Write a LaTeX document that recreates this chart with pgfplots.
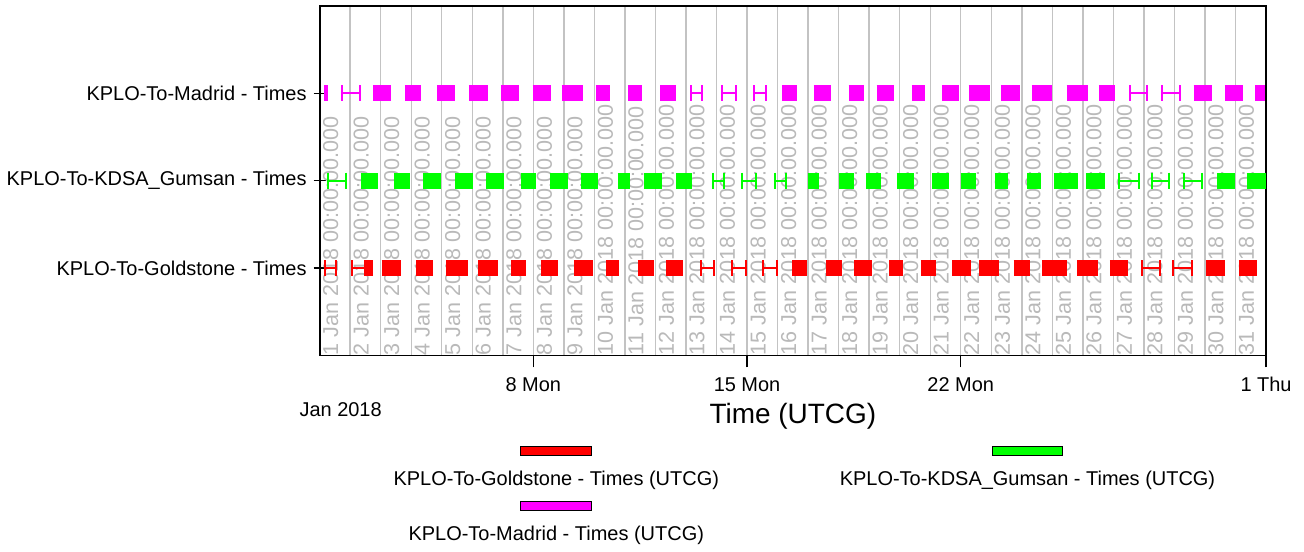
\documentclass[border=0pt]{standalone}
\usepackage{pgfplots}
\pgfplotsset{compat=1.18}
\usepackage{fontspec}
\setmainfont{Liberation Sans}
\definecolor{gridgray}{RGB}{195,195,195}
\definecolor{labgray}{RGB}{185,185,185}
\definecolor{mag}{RGB}{255,0,255}
\definecolor{grn}{RGB}{0,255,0}
\definecolor{rd}{RGB}{255,0,0}
\begin{document}
\begin{tikzpicture}[font=\fontsize{10pt}{12pt}\selectfont]
\begin{axis}[
 scale only axis, width=474pt, height=175pt,
 xmin=0, xmax=31, ymin=0, ymax=4,
 axis line style={black, line width=0.9pt},
 xtick={7,14,21,31}, xticklabels={8 Mon,15 Mon,22 Mon,1 Thu},
 minor xtick={1,...,30},
 xmajorgrids, xminorgrids,
 major grid style={draw=gridgray, line width=0.7pt},
 minor grid style={draw=gridgray, line width=0.7pt},
 ytick={1,2,3},
 yticklabels={KPLO-To-Goldstone - Times,KPLO-To-KDSA\_Gumsan - Times,KPLO-To-Madrid - Times},
 xtick pos=bottom, ytick pos=left,
 xtick align=outside, ytick align=center,
 major tick length=6pt, minor tick length=0pt,
 tick style={black, line width=0.6pt},
 xticklabel style={yshift=-1.5pt},
 xlabel={Time (UTCG)}, xlabel style={font=\fontsize{14pt}{16pt}\selectfont, yshift=1.5pt},
 unbounded coords=jump,
 clip=false,
 /pgf/number format/assume math mode=true,
]
\pgfplotsinvokeforeach{0,...,30}{
 \node[rotate=90, anchor=north west, inner sep=0pt, text=labgray, font=\fontsize{10.8pt}{12pt}\selectfont, yshift=-1.5pt, xshift=0pt] at (axis cs:#1,0) {\the\numexpr#1+1\relax\ Jan 2018 00:00:00.000};
}
% Madrid (y=3)
\addplot[draw=mag, line width=8pt, line cap=butt] coordinates {
 (1.75,3) (2.35,3) (nan,nan) (2.79,3) (3.33,3) (nan,nan) (3.85,3) (4.42,3) (nan,nan)
 (4.89,3) (5.51,3) (nan,nan) (5.94,3) (6.54,3) (nan,nan) (6.98,3) (7.58,3) (nan,nan)
 (7.93,3) (8.62,3) (nan,nan) (9.05,3) (9.52,3) (nan,nan) (10.11,3) (10.55,3) (nan,nan)
 (11.16,3) (11.67,3) (nan,nan) (15.15,3) (15.64,3) (nan,nan) (16.19,3) (16.74,3) (nan,nan)
 (17.33,3) (17.82,3) (nan,nan) (18.24,3) (18.81,3) (nan,nan) (19.40,3) (19.84,3) (nan,nan)
 (20.39,3) (20.94,3) (nan,nan) (21.26,3) (21.95,3) (nan,nan) (22.31,3) (22.95,3) (nan,nan)
 (23.33,3) (23.98,3) (nan,nan) (24.47,3) (25.18,3) (nan,nan) (25.52,3) (26.06,3) (nan,nan)
 (28.63,3) (29.23,3) (nan,nan) (29.65,3) (30.25,3) (nan,nan) (30.64,3) (30.97,3)
};
\addplot[draw=mag, line width=1pt, mark=|, mark size=4pt, mark options={line width=1pt}] coordinates {
 (0.18,3) (0.24,3) (nan,nan) (0.72,3) (1.32,3) (nan,nan) (12.16,3) (12.54,3) (nan,nan)
 (13.19,3) (13.63,3) (nan,nan) (14.23,3) (14.63,3) (nan,nan) (26.53,3) (27.09,3) (nan,nan)
 (27.59,3) (28.19,3)
};
% Gumsan (y=2)
\addplot[draw=grn, line width=8pt, line cap=butt] coordinates {
 (1.37,2) (1.91,2) (nan,nan) (2.43,2) (2.95,2) (nan,nan) (3.38,2) (3.98,2) (nan,nan)
 (4.42,2) (5.02,2) (nan,nan) (5.45,2) (6.05,2) (nan,nan) (6.60,2) (7.09,2) (nan,nan)
 (7.53,2) (8.13,2) (nan,nan) (8.57,2) (9.11,2) (nan,nan) (9.77,2) (10.15,2) (nan,nan)
 (10.64,2) (11.21,2) (nan,nan) (11.67,2) (12.21,2) (nan,nan) (15.99,2) (16.37,2) (nan,nan)
 (17.02,2) (17.51,2) (nan,nan) (17.89,2) (18.40,2) (nan,nan) (18.90,2) (19.47,2) (nan,nan)
 (20.06,2) (20.61,2) (nan,nan) (21.00,2) (21.49,2) (nan,nan) (22.11,2) (22.56,2) (nan,nan)
 (23.18,2) (23.64,2) (nan,nan) (24.05,2) (24.84,2) (nan,nan) (25.10,2) (25.73,2) (nan,nan)
 (29.39,2) (29.98,2) (nan,nan) (30.36,2) (31.00,2)
};
\addplot[draw=grn, line width=1pt, mark=|, mark size=4pt, mark options={line width=1pt}] coordinates {
 (0.28,2) (0.87,2) (nan,nan) (12.87,2) (13.25,2) (nan,nan) (13.85,2) (14.28,2) (nan,nan)
 (14.92,2) (15.28,2) (nan,nan) (26.19,2) (26.83,2) (nan,nan) (27.27,2) (27.83,2) (nan,nan)
 (28.32,2) (28.91,2)
};
% Goldstone (y=1)
\addplot[draw=rd, line width=8pt, line cap=butt] coordinates {
 (1.50,1) (1.75,1) (nan,nan) (2.03,1) (2.66,1) (nan,nan) (3.17,1) (3.72,1) (nan,nan)
 (4.15,1) (4.86,1) (nan,nan) (5.19,1) (5.84,1) (nan,nan) (6.26,1) (6.77,1) (nan,nan)
 (7.24,1) (7.81,1) (nan,nan) (8.33,1) (8.95,1) (nan,nan) (9.39,1) (9.82,1) (nan,nan)
 (10.42,1) (10.96,1) (nan,nan) (11.34,1) (11.89,1) (nan,nan) (15.48,1) (15.97,1) (nan,nan)
 (16.58,1) (17.12,1) (nan,nan) (17.50,1) (18.10,1) (nan,nan) (18.65,1) (19.12,1) (nan,nan)
 (19.69,1) (20.18,1) (nan,nan) (20.72,1) (21.32,1) (nan,nan) (21.60,1) (22.26,1) (nan,nan)
 (22.73,1) (23.28,1) (nan,nan) (23.66,1) (24.49,1) (nan,nan) (24.82,1) (25.51,1) (nan,nan)
 (25.88,1) (26.49,1) (nan,nan) (29.03,1) (29.64,1) (nan,nan) (30.11,1) (30.69,1)
};
\addplot[draw=rd, line width=1pt, mark=|, mark size=4pt, mark options={line width=1pt}] coordinates {
 (0.16,1) (0.55,1) (nan,nan) (1.05,1) (1.50,1) (nan,nan) (12.49,1) (12.92,1) (nan,nan)
 (13.52,1) (13.96,1) (nan,nan) (14.53,1) (14.99,1) (nan,nan) (26.94,1) (27.53,1) (nan,nan)
 (27.96,1) (28.58,1)
};
\end{axis}
% Jan 2018
\node at ([shift={(10.5pt,-27pt)}]current axis.south west) {Jan 2018};
% legend
\draw[fill=rd, draw=black, line width=0.6pt] ([shift={(100.5pt,-45.5pt)}]current axis.south west) rectangle ([shift={(136pt,-50pt)}]current axis.south west);
\node at ([shift={(118.5pt,-62.5pt)}]current axis.south west) {KPLO-To-Goldstone - Times (UTCG)};
\draw[fill=grn, draw=black, line width=0.6pt] ([shift={(337pt,-45.5pt)}]current axis.south west) rectangle ([shift={(372pt,-50pt)}]current axis.south west);
\node at ([shift={(354.5pt,-62.5pt)}]current axis.south west) {KPLO-To-KDSA\_Gumsan - Times (UTCG)};
\draw[fill=mag, draw=black, line width=0.6pt] ([shift={(100.5pt,-73pt)}]current axis.south west) rectangle ([shift={(136pt,-77.5pt)}]current axis.south west);
\node at ([shift={(118.5pt,-90pt)}]current axis.south west) {KPLO-To-Madrid - Times (UTCG)};
% bounding box
\path ([shift={(-159pt,-96pt)}]current axis.south west) rectangle ([shift={(19pt,3pt)}]current axis.north east);
\end{tikzpicture}
\end{document}
